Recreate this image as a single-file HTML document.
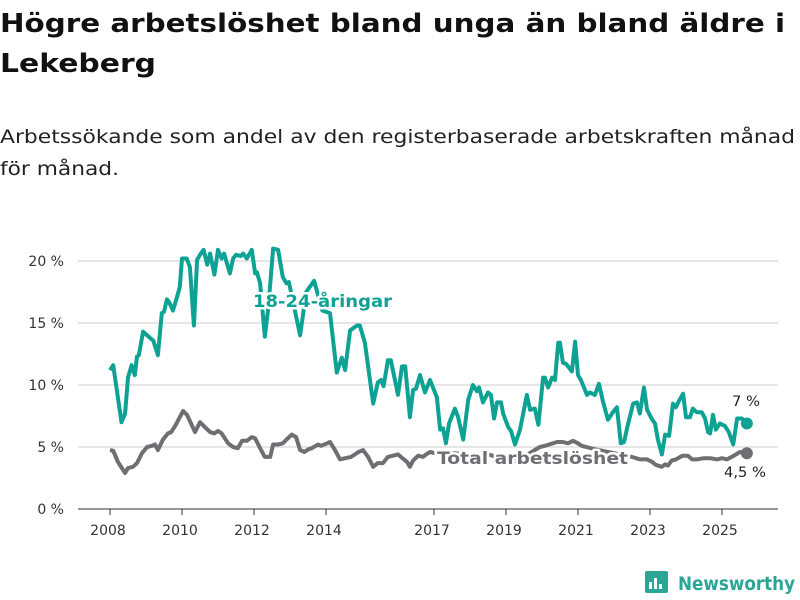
<!DOCTYPE html>
<html><head><meta charset="utf-8"><style>
body{margin:0;background:#fff;width:800px;height:600px;overflow:hidden;font-family:"DejaVu Sans","Liberation Sans",sans-serif}
svg{display:block}
</style></head><body>
<svg id="c" width="800" height="600">
<text x="0" y="32" font-size="26" font-weight="bold" fill="#111" textLength="785" lengthAdjust="spacingAndGlyphs">Högre arbetslöshet bland unga än bland äldre i</text>
<text x="0" y="72" font-size="26" font-weight="bold" fill="#111" textLength="156" lengthAdjust="spacingAndGlyphs">Lekeberg</text>
<text x="0" y="143" font-size="19" fill="#222" textLength="795" lengthAdjust="spacingAndGlyphs">Arbetssökande som andel av den registerbaserade arbetskraften månad</text>
<text x="0" y="175" font-size="19" fill="#222" textLength="119" lengthAdjust="spacingAndGlyphs">för månad.</text>
<g id="grid"></g><g id="lines"></g><g id="labels"></g>
<g>
<rect x="645" y="571" width="23" height="22" rx="2" fill="#2aa596"/>
<rect x="649" y="582" width="3" height="7" fill="#fff"/><rect x="654" y="578" width="3" height="11" fill="#fff"/><rect x="659" y="584" width="3" height="5" fill="#fff"/>
<text x="678" y="590" font-size="19" font-weight="bold" fill="#2aa596" textLength="117" lengthAdjust="spacingAndGlyphs">Newsworthy</text>
</g>
</svg>
<script>
const yTicks=[0,5,10,15,20];
const xTicks=[2008,2010,2012,2014,2017,2019,2021,2023,2025];
const youthDates=[2008.0,2008.09,2008.32,2008.42,2008.5,2008.6,2008.69,2008.75,2008.8,2008.92,2009.11,2009.2,2009.33,2009.44,2009.5,2009.58,2009.64,2009.75,2009.86,2009.94,2010.0,2010.13,2010.22,2010.33,2010.42,2010.5,2010.6,2010.7,2010.78,2010.9,2011.0,2011.1,2011.17,2011.33,2011.42,2011.5,2011.63,2011.7,2011.8,2011.94,2012.03,2012.08,2012.17,2012.3,2012.4,2012.53,2012.67,2012.8,2012.9,2012.97,2013.1,2013.28,2013.45,2013.67,2013.9,2014.11,2014.3,2014.44,2014.53,2014.67,2014.86,2014.94,2015.08,2015.31,2015.44,2015.53,2015.6,2015.72,2015.8,2016.0,2016.11,2016.2,2016.33,2016.42,2016.5,2016.61,2016.75,2016.89,2017.08,2017.17,2017.25,2017.33,2017.42,2017.58,2017.67,2017.81,2017.95,2018.08,2018.19,2018.25,2018.36,2018.5,2018.58,2018.67,2018.75,2018.86,2018.92,2019.06,2019.14,2019.25,2019.39,2019.58,2019.67,2019.8,2019.9,2020.03,2020.08,2020.17,2020.28,2020.36,2020.45,2020.5,2020.58,2020.67,2020.83,2020.92,2021.0,2021.08,2021.25,2021.33,2021.47,2021.58,2021.7,2021.83,2021.97,2022.08,2022.19,2022.28,2022.36,2022.53,2022.64,2022.72,2022.83,2022.92,2023.06,2023.14,2023.22,2023.33,2023.42,2023.53,2023.64,2023.72,2023.8,2023.92,2024.0,2024.11,2024.19,2024.3,2024.44,2024.53,2024.61,2024.67,2024.75,2024.83,2024.94,2025.08,2025.19,2025.31,2025.42,2025.55,2025.69];
const youthValues=[11.2,11.6,7.0,7.7,10.6,11.6,10.8,12.3,12.4,14.3,13.8,13.6,12.4,15.8,15.9,16.9,16.7,16.0,17.1,17.9,20.2,20.2,19.5,14.8,20.1,20.5,20.9,19.7,20.6,18.9,20.9,20.2,20.6,19.0,20.2,20.5,20.4,20.6,20.2,20.9,19.0,19.1,18.2,13.9,16.3,21.0,20.9,18.7,18.2,18.3,16.5,14.0,17.5,18.4,16.0,15.8,11.0,12.2,11.2,14.4,14.8,14.8,13.4,8.5,10.2,10.4,9.9,12.0,12.0,9.2,11.5,11.5,7.4,9.6,9.7,10.8,9.4,10.4,9.0,6.4,6.5,5.3,6.9,8.1,7.4,5.6,8.8,10.0,9.5,9.8,8.6,9.4,9.2,7.3,8.6,8.6,7.7,6.6,6.3,5.2,6.4,9.2,8.0,8.1,6.8,10.6,10.6,9.8,10.6,10.4,13.4,13.4,11.8,11.7,11.1,13.5,10.8,10.4,9.2,9.4,9.2,10.1,8.6,7.2,7.8,8.2,5.3,5.4,6.5,8.5,8.6,7.7,9.8,8.0,7.2,6.9,5.6,4.4,6.0,5.9,8.5,8.2,8.7,9.3,7.4,7.4,8.1,7.8,7.8,7.3,6.2,6.1,7.6,6.4,6.9,6.7,6.2,5.2,7.3,7.3,6.9];
const totalDates=[2008.0,2008.09,2008.22,2008.42,2008.5,2008.64,2008.75,2008.89,2009.03,2009.17,2009.25,2009.33,2009.47,2009.61,2009.7,2009.83,2009.94,2010.03,2010.14,2010.22,2010.36,2010.5,2010.64,2010.78,2010.9,2011.0,2011.1,2011.28,2011.42,2011.55,2011.67,2011.8,2011.94,2012.03,2012.17,2012.3,2012.45,2012.53,2012.67,2012.8,2012.9,2013.05,2013.17,2013.28,2013.4,2013.5,2013.6,2013.78,2013.86,2014.03,2014.11,2014.25,2014.39,2014.53,2014.7,2014.9,2015.03,2015.17,2015.31,2015.44,2015.58,2015.72,2015.86,2016.0,2016.08,2016.25,2016.33,2016.42,2016.56,2016.7,2016.78,2016.89,2017.2,2017.6,2018.0,2018.5,2019.0,2019.3,2019.6,2019.94,2020.08,2020.42,2020.58,2020.72,2020.86,2021.0,2021.1,2021.5,2022.0,2022.5,2022.72,2022.92,2023.06,2023.14,2023.22,2023.33,2023.42,2023.5,2023.6,2023.72,2023.9,2024.05,2024.17,2024.3,2024.5,2024.67,2024.86,2025.0,2025.14,2025.33,2025.5,2025.69];
const totalValues=[4.75,4.7,3.8,2.9,3.3,3.4,3.7,4.5,5.0,5.1,5.2,4.75,5.6,6.1,6.2,6.8,7.4,7.9,7.6,7.1,6.2,7.0,6.6,6.2,6.1,6.3,6.1,5.3,5.0,4.9,5.5,5.5,5.8,5.7,4.9,4.2,4.2,5.2,5.2,5.3,5.6,6.0,5.8,4.75,4.6,4.8,4.9,5.2,5.1,5.3,5.4,4.75,4.0,4.1,4.2,4.6,4.75,4.2,3.4,3.7,3.7,4.2,4.3,4.4,4.2,3.8,3.4,3.9,4.3,4.2,4.4,4.6,4.4,4.5,4.3,4.4,4.0,3.8,4.4,5.0,5.1,5.4,5.4,5.3,5.5,5.3,5.1,4.8,4.5,4.2,4.0,4.0,3.8,3.6,3.5,3.4,3.6,3.5,3.9,4.0,4.3,4.3,4.0,4.0,4.1,4.1,4.0,4.1,4.0,4.3,4.6,4.5];
const NS='http://www.w3.org/2000/svg';
const X=d=>110+36*(d-2008);
const Y=v=>509-12.4*v;
function mk(tag,attrs,parent){const e=document.createElementNS(NS,tag);for(const k in attrs)e.setAttribute(k,attrs[k]);parent.appendChild(e);return e;}
const grid=document.getElementById('grid'),lines=document.getElementById('lines'),labels=document.getElementById('labels');
yTicks.forEach(t=>{
  const l=mk('line',{x1:78,x2:778,y1:Y(t),y2:Y(t),stroke:t===0?'#333':'#ddd','stroke-width':t===0?1:1.5},grid);
  
  
  const tx=mk('text',{x:64,y:Y(t)+5,'text-anchor':'end','font-size':14,fill:'#333'},grid);
  tx.textContent=t+' %';
  
  
});
xTicks.forEach(t=>{
  const l=mk('line',{x1:X(t),x2:X(t),y1:509,y2:515,stroke:'#333'},grid);
  
  
  const tx=mk('text',{x:X(t)-2,y:535,'text-anchor':'middle','font-size':14,fill:'#333'},grid);
  tx.textContent=t;
  
  
});
function path(ds,vs){return ds.map((d,i)=>(i?'L':'M')+X(d).toFixed(1)+','+Y(vs[i]).toFixed(1)).join('');}
const gp=mk('path',{d:path(totalDates,totalValues),fill:'none',stroke:'#6e6e73','stroke-width':4,'stroke-linejoin':'round'},lines);


const yp=mk('path',{d:path(youthDates,youthValues),fill:'none',stroke:'#0ea294','stroke-width':4,'stroke-linejoin':'round'},lines);


const gl=totalDates.length-1,yl=youthDates.length-1;
const gd=mk('circle',{cx:X(totalDates[gl]),cy:Y(totalValues[gl]),r:6,fill:'#6e6e73'},lines);


const yd=mk('circle',{cx:X(youthDates[yl]),cy:Y(youthValues[yl]),r:6,fill:'#0ea294'},lines);


function lab(txt,x,y,fill,size,bold,name,len){
  const t=mk('text',{x:x,y:y,'font-size':size,fill:fill,'font-weight':bold?'bold':'normal',stroke:'#fff','stroke-width':bold?5:3,'paint-order':'stroke','stroke-linejoin':'round'},labels);
  if(len){t.setAttribute('textLength',len);t.setAttribute('lengthAdjust','spacingAndGlyphs');}
  t.textContent=txt;
  
  
}
lab('18-24-åringar',253,307,'#0ea294',17,true,'youth-series-label',139);
lab('Total arbetslöshet',437,464,'#6e6e73',17,true,'total-series-label',191);
lab('7 %',732,406,'#222',14,false,'youth-end-value',28);
lab('4,5 %',724,477,'#222',14,false,'total-end-value',42);
</script>
</body></html>
